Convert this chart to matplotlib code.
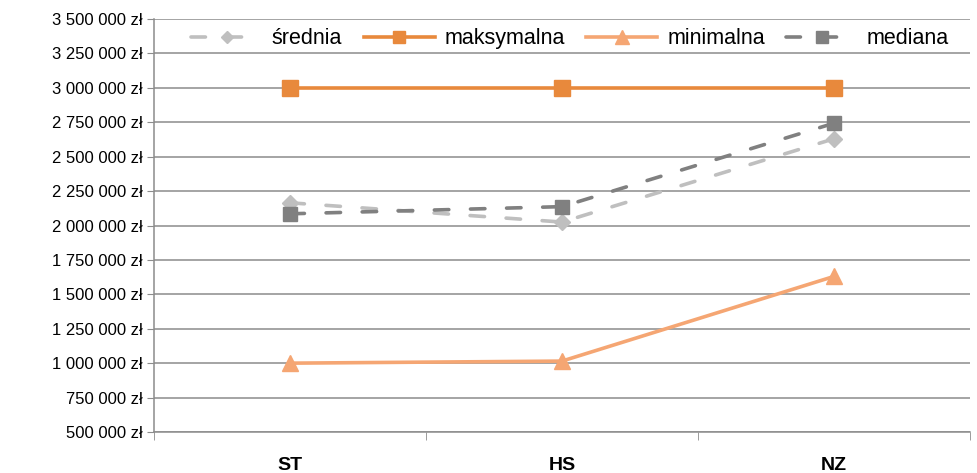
import numpy as np
import matplotlib
matplotlib.use("Agg")
import matplotlib.pyplot as plt
from matplotlib.ticker import FuncFormatter, MultipleLocator

plt.rcParams['font.family'] = ['Liberation Sans', 'DejaVu Sans']

# data
categories = ["ST", "HS", "NZ"]
srednia = [2165000, 2025000, 2630000]
maksymalna = [3000000, 3000000, 3000000]
minimalna = [1000000, 1015000, 1630000]
mediana = [2085000, 2137000, 2743000]

fig = plt.figure(figsize=(9.77, 4.73), dpi=100)
ax = fig.add_axes([0.1576, 0.0867, 0.8352, 0.8731])

x = np.arange(len(categories))

ax.plot(x, srednia, color="#BFBFBF", lw=2.6, ls=(0, (4, 6)), dash_capstyle="round",
        marker="D", ms=8, label="średnia", zorder=3)
ax.plot(x, maksymalna, color="#E8893C", lw=2.6, marker="s", ms=11,
        label="maksymalna", zorder=4)
ax.plot(x, minimalna, color="#F5A673", lw=2.6, marker="^", ms=12,
        label="minimalna", zorder=4)
ax.plot(x, mediana, color="#808080", lw=2.6, ls=(0, (4, 6)), dash_capstyle="round",
        marker="s", ms=10, label="mediana", zorder=3)

ax.set_xlim(-0.5, 2.5)
ax.set_ylim(500000, 3500000)
ax.yaxis.set_major_locator(MultipleLocator(250000))


def fmt(v, pos):
    return "{:,.0f}".format(v).replace(",", " ") + " zł"


ax.yaxis.set_major_formatter(FuncFormatter(fmt))
ax.grid(axis="y", color="#8C8C8C", lw=1.1)
ax.set_axisbelow(True)

ax.set_xticks(x)
ax.set_xticklabels(categories, fontsize=14, fontweight="bold")
ax.tick_params(axis="x", length=0, pad=18)
ax.set_xticks([-0.5, 0.5, 1.5, 2.5], minor=True)
ax.tick_params(axis="x", which="minor", length=6, color="#8C8C8C", direction="out")
ax.tick_params(axis="y", labelsize=12, length=5, color="#8C8C8C", pad=3)

for s in ["top", "right"]:
    ax.spines[s].set_visible(False)
for s in ["left", "bottom"]:
    ax.spines[s].set_color("#8C8C8C")
    ax.spines[s].set_linewidth(1.1)

ax.legend(loc="upper center", bbox_to_anchor=(0.51, 1.024), ncol=4, frameon=False,
          fontsize=15.5, handlelength=3.3, columnspacing=1.0, handletextpad=0.45,
          markerscale=0.8)

fig.savefig("out.png", dpi=100)
